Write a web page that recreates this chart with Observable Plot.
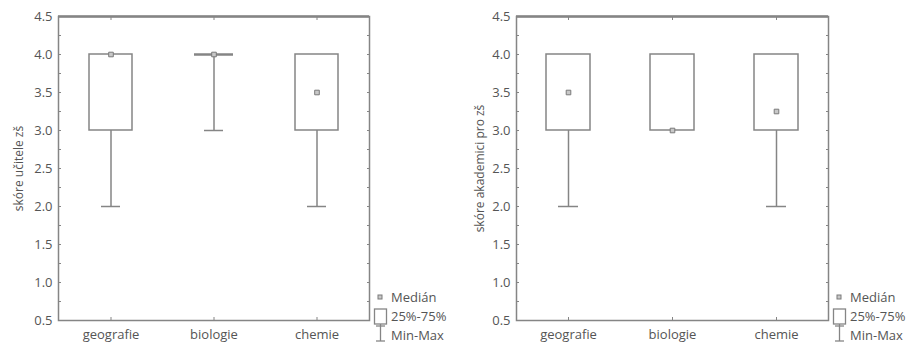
<!DOCTYPE html>
<html>
<head>
<meta charset="utf-8">
<script src="https://cdn.jsdelivr.net/npm/d3@7"></script>
<script src="https://cdn.jsdelivr.net/npm/@observablehq/plot@0.6"></script>
<style>
  html, body { margin: 0; padding: 0; background: #fff; }
  #wrap { position: relative; width: 913px; height: 344px; overflow: hidden; font-family: "Open Sans", sans-serif; }
  .panel { position: absolute; top: 0; }
  .legend { position: absolute; font-size: 13px; color: #555; font-family: "Open Sans", sans-serif; }
  .legend .item { position: absolute; white-space: nowrap; line-height: 14px; }
</style>
</head>
<body>
<div id="wrap"></div>
<script>
const categories = ["geografie", "biologie", "chemie"];
const yTicks = [0.5, 1.0, 1.5, 2.0, 2.5, 3.0, 3.5, 4.0, 4.5];
const yMinorTicks = [0.75, 1.25, 1.75, 2.25, 2.75, 3.25, 3.75, 4.25];
const yDomain = [0.5, 4.5];

// panel 1: skóre učitele zš
const teacherMin    = [2, 3, 2];
const teacherQ1     = [3, 4, 3];
const teacherMedian = [4, 4, 3.5];
const teacherQ3     = [4, 4, 4];
const teacherMax    = [4, 4, 4];

// panel 2: skóre akademici pro zš
const academicMin    = [2, 3, 2];
const academicQ1     = [3, 3, 3];
const academicMedian = [3.5, 3, 3.25];
const academicQ3     = [4, 4, 4];
const academicMax    = [4, 4, 4];

const legendLabels = ["Medián", "25%-75%", "Min-Max"];

const gray = "#858585";
const textColor = "#555";

function rows(mins, q1s, meds, q3s, maxs) {
  return categories.map((c, i) => ({cat: c, min: mins[i], q1: q1s[i], med: meds[i], q3: q3s[i], max: maxs[i]}));
}

function panel(data, label, opts) {
  return Plot.plot({
    width: opts.width,
    height: 344,
    marginLeft: opts.marginLeft,
    marginRight: opts.marginRight,
    marginTop: 16,
    marginBottom: 24,
    style: {fontFamily: "Open Sans, sans-serif", fontSize: "13px", color: textColor, background: "transparent"},
    x: {type: "band", domain: categories, padding: 0},
    y: {domain: yDomain},
    marks: [
      Plot.axisY({ticks: yTicks, tickFormat: d3.format(".1f"), tickSize: 0, tickPadding: 6, label: null, fill: textColor, fontSize: 13}),
      Plot.axisY({ticks: [], tickSize: 0, label: label, labelAnchor: "center", labelArrow: "none", labelOffset: opts.labelOffset, fill: textColor, fontSize: 12}),
      Plot.axisY({ticks: yTicks.concat(yMinorTicks), tickSize: -3, text: null, label: null, stroke: gray}),
      Plot.axisY({ticks: yTicks.concat(yMinorTicks), anchor: "right", tickSize: -3, text: null, label: null, stroke: gray}),
      Plot.axisX({tickSize: 0, tickPadding: 9, label: null, fill: textColor, fontSize: 13}),
      Plot.axisX({tickSize: -3, text: null, label: null, stroke: gray}),
      Plot.axisX({anchor: "top", tickSize: -3, text: null, label: null, stroke: gray}),
      // whiskers
      Plot.ruleX(data.filter(d => d.max > d.q3), {x: "cat", y1: "q3", y2: "max", stroke: gray, strokeWidth: 1.5}),
      Plot.ruleX(data.filter(d => d.min < d.q1), {x: "cat", y1: "min", y2: "q1", stroke: gray, strokeWidth: 1.5}),
      Plot.tickY(data.filter(d => d.max > d.q3), {x: "cat", y: "max", stroke: gray, strokeWidth: 1.5, insetLeft: 42, insetRight: 42}),
      Plot.tickY(data.filter(d => d.min < d.q1), {x: "cat", y: "min", stroke: gray, strokeWidth: 1.5, insetLeft: 42, insetRight: 42}),
      // boxes
      Plot.barY(data.filter(d => d.q3 > d.q1), {x: "cat", y1: "q1", y2: "q3", fill: "white", stroke: gray, strokeWidth: 1.5, insetLeft: 30, insetRight: 30}),
      Plot.tickY(data.filter(d => d.q3 === d.q1), {x: "cat", y: "q3", stroke: gray, strokeWidth: 2.5, insetLeft: 32, insetRight: 32}),
      // median
      Plot.dot(data, {x: "cat", y: "med", symbol: "square", r: 2.6, fill: "#c8c8c8", stroke: "#7a7a7a", strokeWidth: 1}),
      // frame
      Plot.frame({stroke: gray, strokeWidth: 1.5}),
      Plot.ruleY([yDomain[1]], {stroke: gray, strokeWidth: 2.5})
    ]
  });
}

function legend(left) {
  const div = document.createElement("div");
  div.className = "legend";
  div.style.left = left + "px";
  div.style.top = "0px";
  const ys = [297, 316, 335];
  const ns = "http://www.w3.org/2000/svg";
  const svg = document.createElementNS(ns, "svg");
  svg.setAttribute("width", "20");
  svg.setAttribute("height", "344");
  svg.style.position = "absolute";
  svg.style.left = "0px";
  svg.style.top = "0px";
  svg.innerHTML =
    `<rect x="5" y="295" width="4" height="4" fill="#c8c8c8" stroke="#7a7a7a" stroke-width="1"/>` +
    `<rect x="1.5" y="309" width="12" height="15" fill="white" stroke="${gray}" stroke-width="1.3"/>` +
    `<line x1="7.5" y1="324" x2="7.5" y2="341" stroke="${gray}" stroke-width="1.3"/>` +
    `<line x1="3" y1="341" x2="12" y2="341" stroke="${gray}" stroke-width="1.3"/>` +
    `<line x1="3" y1="326" x2="12" y2="326" stroke="${gray}" stroke-width="1.3"/>`;
  div.appendChild(svg);
  legendLabels.forEach((t, i) => {
    const s = document.createElement("div");
    s.className = "item";
    s.textContent = t;
    s.style.left = "18px";
    s.style.top = (ys[i] - 7) + "px";
    div.appendChild(s);
  });
  return div;
}

const wrap = document.getElementById("wrap");
const p1 = panel(rows(teacherMin, teacherQ1, teacherMedian, teacherQ3, teacherMax), "skóre učitele zš", {width: 456, marginLeft: 58, marginRight: 87, labelOffset: 44});
p1.classList.add("panel");
p1.style.left = "0px";
wrap.appendChild(p1);
const p2 = panel(rows(academicMin, academicQ1, academicMedian, academicQ3, academicMax), "skóre akademici pro zš", {width: 457, marginLeft: 60, marginRight: 85, labelOffset: 41});
p2.classList.add("panel");
p2.style.left = "456px";
wrap.appendChild(p2);
wrap.appendChild(legend(373));
wrap.appendChild(legend(832));
</script>
</body>
</html>
